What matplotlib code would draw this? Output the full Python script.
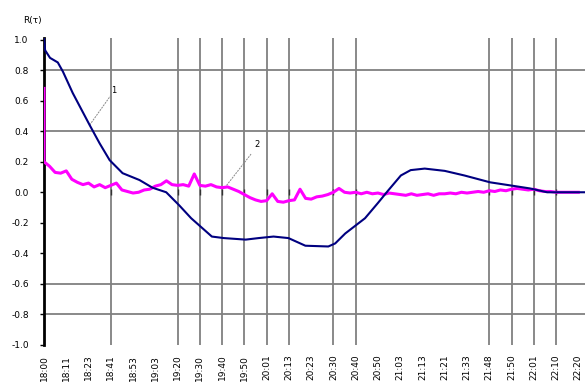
import matplotlib.pyplot as plt
import numpy as np

# time axis labels (one per step)
time_labels = ["18:00", "18:11", "18:23", "18:41", "18:53", "19:03", "19:20", "19:30",
               "19:40", "19:50", "20:01", "20:13", "20:23", "20:30", "20:40", "20:50",
               "21:03", "21:13", "21:21", "21:33", "21:48", "21:50", "22:01", "22:10",
               "22:20"]

# curve 1
t1 = [0.0, 0.05, 0.27, 0.62, 0.85, 1.29, 2.05, 2.5, 2.95, 3.53, 4.29, 4.87, 5.49,
      6.07, 6.61, 7.54, 8.08, 9.06, 9.64, 10.31, 10.98, 11.74, 12.77, 13.08, 13.53,
      14.42, 15.0, 15.45, 16.03, 16.47, 17.1, 18.0, 18.88, 20.04, 20.94, 21.83,
      22.6, 23.93, 24.3]
r1 = [1.01, 0.93, 0.88, 0.85, 0.79, 0.65, 0.44, 0.32, 0.21, 0.125, 0.08, 0.03, 0.0,
      -0.085, -0.17, -0.29, -0.30, -0.31, -0.30, -0.29, -0.30, -0.35, -0.355, -0.335,
      -0.27, -0.17, -0.07, 0.01, 0.11, 0.145, 0.155, 0.14, 0.11, 0.065, 0.045, 0.025,
      0.0, 0.0, 0.0]

# curve 2 (sampled every 0.25 step)
t2 = np.r_[0.0, 0.0, np.arange(0.25, 24.01, 0.25)]
r2 = [0.68, 0.20,
      0.17, 0.13, 0.125, 0.14, 0.085, 0.065, 0.05, 0.06,
      0.035, 0.05, 0.03, 0.045, 0.06, 0.015, 0.005, -0.005,
      0.0, 0.015, 0.02, 0.04, 0.05, 0.075, 0.05, 0.045,
      0.05, 0.04, 0.12, 0.045, 0.04, 0.05, 0.035, 0.03,
      0.035, 0.02, 0.005, -0.015, -0.035, -0.05, -0.06, -0.055,
      -0.01, -0.06, -0.065, -0.055, -0.05, 0.02, -0.04, -0.045,
      -0.03, -0.025, -0.015, 0.0, 0.025, 0.0, -0.005, 0.0,
      -0.01, 0.0, -0.01, -0.005, -0.015, -0.005, -0.01, -0.015,
      -0.02, -0.01, -0.02, -0.015, -0.01, -0.02, -0.01, -0.01,
      -0.005, -0.01, 0.0, -0.005, 0.0, 0.005, 0.0, 0.01,
      0.005, 0.015, 0.01, 0.02, 0.025, 0.02, 0.015, 0.02,
      0.01, 0.005, 0.005, 0.0, 0.0, 0.0, 0.0, 0.0]

# which time steps / levels get a grid line
vgrid = [3, 6, 7, 8, 9, 10, 11, 13, 14, 20, 21, 22, 23]
hgrid = [0.8, 0.4, -0.6, -0.8]
yticks = [1.0, 0.8, 0.6, 0.4, 0.2, 0.0, -0.2, -0.4, -0.6, -0.8, -1.0]

fig = plt.figure(figsize=(5.85, 3.85), dpi=100)
ax = fig.add_axes([0.0752, 0.1039, 0.9248, 0.7974])

for v in vgrid:
    ax.axvline(v, color='#808080', lw=1.3, zorder=1)
for h in hgrid:
    ax.axhline(h, color='#808080', lw=1.3, zorder=1)

# small ticks on the zero level
ax.plot(vgrid, np.zeros(len(vgrid)), ls='none', marker='|', ms=4, color='#333333', zorder=2)

ax.plot(t2, r2, color='#ff00ff', lw=2.2, zorder=3)
ax.plot(t1, r1, color='#000080', lw=1.5, zorder=4)

# curve labels with leader lines
ax.plot([2.05, 2.98], [0.44, 0.63], color='#888888', lw=0.7, ls=(0, (2, 1)))
ax.text(3.0, 0.64, '1', fontsize=6, ha='left', va='bottom')
ax.plot([8.2, 9.3], [0.045, 0.25], color='#888888', lw=0.7, ls=(0, (2, 1)))
ax.text(9.45, 0.28, '2', fontsize=6, ha='left', va='bottom')

ax.set_xlim(0, 24.3)
ax.set_ylim(-1.0, 1.01)

ax.set_yticks(yticks)
ax.set_yticklabels([f'{y:.1f}' for y in yticks], fontsize=6.5)
ax.set_xticks(range(len(time_labels)))
ax.set_xticklabels(time_labels, rotation=90, fontsize=6.5, va='top')
ax.tick_params(axis='x', length=0, pad=7)
ax.tick_params(axis='y', length=3, width=1, pad=8)

for s in ['top', 'right', 'bottom']:
    ax.spines[s].set_visible(False)
ax.spines['left'].set_linewidth(2)

fig.text(32 / 585, 1 - 20 / 385, 'R(τ)', fontsize=6.5, ha='center', va='center')

fig.savefig('out.png', dpi=100)
